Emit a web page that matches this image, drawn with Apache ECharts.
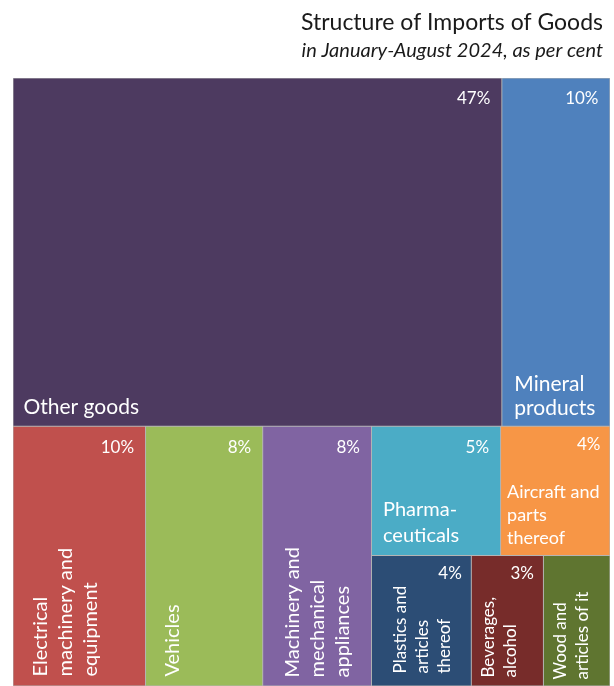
<!DOCTYPE html>
<html>
<head>
<meta charset="utf-8">
<script src="https://cdn.jsdelivr.net/npm/echarts@6/dist/echarts.min.js"></script>
<style>
html,body{margin:0;padding:0;background:#fff;}
#chart{width:614px;height:686px;}
</style>
</head>
<body>
<div id="chart"></div>
<script>
// ---- data ----
const categories = ['Other goods', 'Mineral products', 'Electrical machinery and equipment', 'Vehicles',
  'Machinery and mechanical appliances', 'Pharmaceuticals', 'Aircraft and parts thereof',
  'Plastics and articles thereof', 'Beverages, alcohol', 'Wood and articles of it'];
const shares = [47.0, 10.4, 9.5, 8.4, 7.8, 4.6, 3.9, 3.6, 2.6, 2.4];
const shareLabels = ['47%', '10%', '10%', '8%', '8%', '5%', '4%', '4%', '3%', ''];
const displayNames = ['Other goods', 'Mineral\nproducts', 'Electrical\nmachinery and\nequipment', 'Vehicles',
  'Machinery and\nmechanical\nappliances', 'Pharma-\nceuticals', 'Aircraft and\nparts\nthereof',
  'Plastics and\narticles\nthereof', 'Beverages,\nalcohol', 'Wood and\narticles of it'];
// grouping of categories (indices) used to arrange the cells
const grouping = [[0, 1], [2, 3, 4, [[5, 6], [7, 8, 9]]]];

// ---- styles ----
const colors = ['#4d3a60', '#4f81bd', '#c0504d', '#9bbb59', '#8064a2', '#4bacc6', '#f79646', '#2c4d75', '#772c2a', '#5f7530'];
const FONT = 'Lato';
const nameStyle = {
  'Other goods': {fontSize: 21, lineHeight: 25, padding: [0, 0, 6, 10]},
  'Mineral products': {fontSize: 21, lineHeight: 24, padding: [0, 0, 6, 12]},
  'Pharmaceuticals': {fontSize: 20, lineHeight: 26, padding: [0, 0, 6, 11]},
  'Aircraft and parts thereof': {fontSize: 18, lineHeight: 23, padding: [0, 0, 5, 6]},
  'Electrical machinery and equipment': {rot: true, fontSize: 20, lineHeight: 25, padding: [15, 0, 0, 9]},
  'Vehicles': {rot: true, fontSize: 20, lineHeight: 25, padding: [14, 0, 0, 9]},
  'Machinery and mechanical appliances': {rot: true, fontSize: 20, lineHeight: 25, padding: [17, 0, 0, 8]},
  'Plastics and articles thereof': {rot: true, fontSize: 17, lineHeight: 22, padding: [18, 0, 0, 12]},
  'Beverages, alcohol': {rot: true, fontSize: 17, lineHeight: 22, padding: [6, 0, 0, 8]},
  'Wood and articles of it': {rot: true, fontSize: 17, lineHeight: 22, padding: [6, 0, 0, 6]}
};

let gid = 0;
function build(node, kind) {
  if (typeof node === 'number') {
    const name = categories[node];
    if (kind === 'cells') {
      const small = shares[node] < 4.5;
      return {
        name: name, value: shares[node],
        itemStyle: {color: colors[node], borderColor: '#b4b4b4', borderWidth: 0.5},
        label: {
          show: shareLabels[node] !== '',
          formatter: shareLabels[node],
          position: 'insideTopRight', align: 'right', verticalAlign: 'top',
          fontFamily: FONT, fontSize: 17, color: '#fff',
          padding: small ? [9, 9, 0, 0] : [12, 11, 0, 0], overflow: 'none'
        }
      };
    }
    const st = nameStyle[name];
    const lab = {
      show: true, formatter: displayNames[node], color: '#fff',
      fontFamily: FONT, fontSize: st.fontSize, lineHeight: st.lineHeight,
      position: 'insideBottomLeft', distance: 0, padding: st.padding, overflow: 'none'
    };
    if (st.rot) { lab.rotate = 90; lab.align = 'left'; lab.verticalAlign = 'top'; }
    else { lab.align = 'left'; lab.verticalAlign = 'bottom'; }
    return {
      name: name, value: shares[node],
      itemStyle: {color: 'rgba(0,0,0,0)', borderColor: 'rgba(0,0,0,0)', borderWidth: 0.5},
      label: lab
    };
  }
  return {
    name: 'group' + (gid++),
    children: node.map(n => build(n, kind)),
    label: {show: false},
    itemStyle: {borderWidth: 0, gapWidth: 0}
  };
}

function treemapSeries(kind) {
  return {
    type: 'treemap',
    left: 13, top: 78, right: 4, bottom: 0,
    squareRatio: 1e-6,
    sort: false,
    roam: false,
    nodeClick: false,
    silent: kind !== 'cells',
    breadcrumb: {show: false},
    visibleMin: 0,
    itemStyle: {borderWidth: 0, gapWidth: 0, borderColor: kind === 'cells' ? '#b4b4b4' : 'rgba(0,0,0,0)'},
    upperLabel: {show: false},
    emphasis: {disabled: true},
    data: grouping.map(n => build(n, kind))
  };
}

const chart = echarts.init(document.getElementById('chart'), null, {renderer: 'canvas'});
chart.setOption({
  animation: false,
  title: [
    {text: 'Structure of Imports of Goods', right: 6, top: 6,
      textStyle: {fontFamily: FONT, fontSize: 23, fontWeight: 'normal', color: '#1a1a1a'}},
    {text: 'in January-August 2024, as per cent', right: 6, top: 36,
      textStyle: {fontFamily: FONT, fontSize: 20, fontStyle: 'italic', fontWeight: 'normal', color: '#1a1a1a'}}
  ],
  series: [treemapSeries('cells'), treemapSeries('names')]
});
</script>
</body>
</html>
